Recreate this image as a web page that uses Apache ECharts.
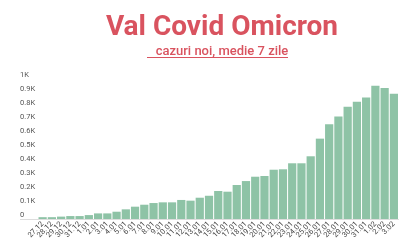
<!DOCTYPE html>
<html><head><meta charset="utf-8">
<script src="https://cdn.jsdelivr.net/npm/echarts@6/dist/echarts.min.js"></script>
<style>html,body{margin:0;padding:0;background:#fff}#c{width:400px;height:250px}</style>
</head><body><div id="c"></div>
<script>
const categories = ['27.12','28.12','29.12','30.12','31.12','1.01','2.01','3.01','4.01','5.01','6.01','7.01','8.01','9.01','10.01','11.01','12.01','13.01','14.01','15.01','16.01','17.01','18.01','19.01','20.01','21.01','22.01','23.01','24.01','25.01','26.01','27.01','28.01','29.01','30.01','31.01','1.02','2.02','3.02'];
const cases = [13,13,17,21,21,28,40,40,52,69,88,102,114,119,119,136,131,152,166,200,195,243,271,302,307,352,355,398,398,448,574,676,733,802,838,867,952,936,895];
const titleText = 'Val Covid Omicron';
const subtitleText = 'cazuri noi, medie 7 zile';

const chart = echarts.init(document.getElementById('c'), null, {renderer:'canvas'});
chart.setOption({
  animation:false,
  backgroundColor:'#fff',
  title:[
    {text:titleText,left:217,top:9,textAlign:'center',
     textStyle:{fontFamily:'Roboto',fontWeight:'bold',fontSize:28,color:'#d9535f'}},
    {text:subtitleText,left:217,top:40,textAlign:'center',
     textStyle:{fontFamily:'Roboto',fontWeight:500,fontSize:13,color:'#d9535f'}}
  ],
  graphic:[
    {type:'line',shape:{x1:147,y1:57.5,x2:288,y2:57.5},style:{stroke:'#d9535f',lineWidth:1}},
    {type:'line',shape:{x1:20,y1:219.5,x2:38,y2:219.5},style:{stroke:'#dddddd',lineWidth:1}}
  ],
  grid:{left:38,right:1.5,top:79,bottom:31,containLabel:false},
  xAxis:{type:'category',data:categories,
    axisLine:{lineStyle:{color:'#dddddd'}},axisTick:{show:false},
    axisLabel:{interval:0,rotate:45,fontSize:7.5,fontFamily:'Roboto',color:'#444',margin:4}},
  yAxis:{type:'value',min:0,max:1000,interval:100,
    splitLine:{show:false},axisLine:{show:false},axisTick:{show:false},
    axisLabel:{align:'left',margin:18,fontSize:7.5,fontFamily:'Roboto',color:'#555',verticalAlign:'bottom',lineHeight:8,
      formatter:v=>v===0?'0':(v/1000)+'K'}},
  series:[{type:'bar',data:cases,barCategoryGap:'11%',itemStyle:{color:'#8ec3a6'}}]
});
</script></body></html>
